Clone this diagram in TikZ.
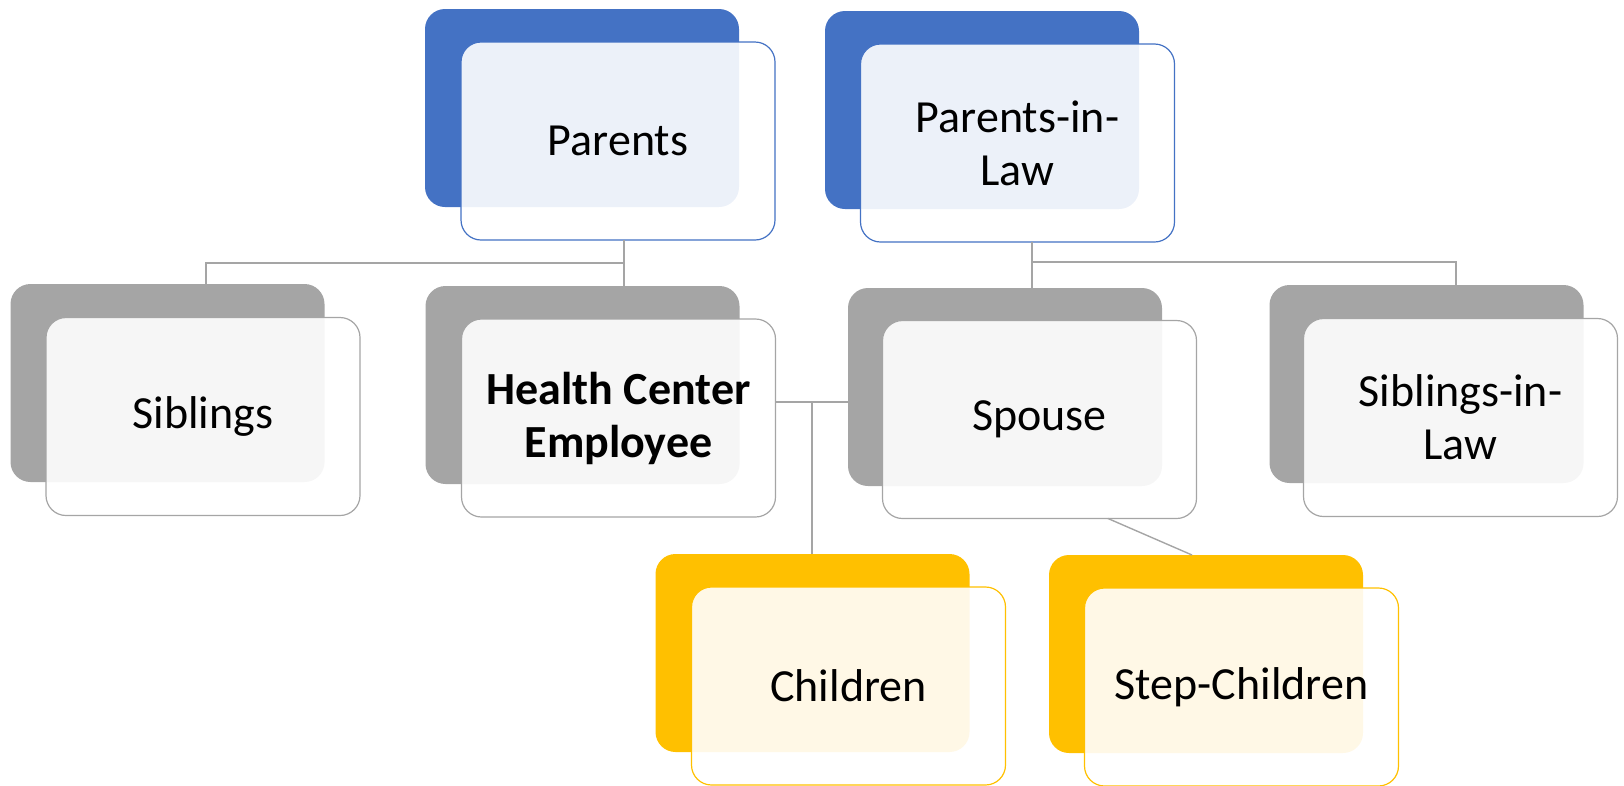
\documentclass[tikz,border=0pt]{standalone}
\usepackage{fontspec}
\setmainfont{Carlito}
\definecolor{accBlue}{HTML}{4472C4}
\definecolor{accGray}{HTML}{A5A5A5}
\definecolor{accGold}{HTML}{FFC000}
\definecolor{lineGray}{HTML}{A5A5A5}
\tikzset{
  card/.style={rectangle, rounded corners=20pt, minimum width=314pt,
    minimum height=198pt, inner sep=0pt, outer sep=0pt},
  backcard/.style={card, fill=#1},
  frontcard/.style={card, draw=#1, line width=1.2pt, fill=white,
    fill opacity=0.9, text opacity=1, draw opacity=1, align=center,
    font=\fontsize{46}{53}\selectfont, text=black},
  conn/.style={draw=lineGray, line width=1.4pt}
}
\begin{document}
\begin{tikzpicture}[x=1pt,y=-1pt]
\useasboundingbox (0,0) rectangle (1624,785);

% back plates
\node[backcard=accBlue] (parB) at (582,108) {};
\node[backcard=accBlue] (pilB) at (982,110) {};
\node[backcard=accGray] (sibB) at (167.5,383) {};
\node[backcard=accGray] (hceB) at (582.5,385) {};
\node[backcard=accGray] (spB)  at (1005,387) {};
\node[backcard=accGray] (silB) at (1426.5,384) {};
\node[backcard=accGold] (chB)  at (812.5,653) {};
\node[backcard=accGold] (stB)  at (1206,654) {};

% junction points of the connectors
\coordinate (jP) at (624,263);
\coordinate (jS) at (206,263);
\coordinate (jL) at (1032,262);
\coordinate (jR) at (1456,262);
\coordinate (jH) at (812,402);
\coordinate (kA) at (1108,519);
\coordinate (kB) at (1192,553);

% front cards with labels
\node[frontcard=accBlue] (par) at (618,141) {Parents};
\node[frontcard=accBlue] (pil) at (1017.5,143) {Parents-in-\\Law};
\node[frontcard=accGray] (sib) at (203,416.5) {Siblings};
\node[frontcard=accGray] (hce) at (618.5,418) {\bfseries Health Center\\\bfseries Employee};
\node[frontcard=accGray] (sp)  at (1039.5,419.5) {Spouse};
\node[frontcard=accGray] (sil) at (1460.5,417.5) {Siblings-in-\\Law};
\node[frontcard=accGold] (ch)  at (848.5,686) {Children};
\node[frontcard=accGold] (st)  at (1241.5,687) {Step-Children};

% connectors
\draw[conn] (par.south -| jP) -- (hceB.north -| jP);
\draw[conn] (jP) -- (jS) -- (sibB.north -| jS);
\draw[conn] (pil.south -| jL) -- (spB.north -| jL);
\draw[conn] (jL) -- (jR) -- (silB.north -| jR);
\draw[conn] (hce.east |- jH) -- (spB.west |- jH);
\draw[conn] (jH) -- (chB.north -| jH);
\draw[conn] (sp.south -| kA) -- (stB.north -| kB);
\end{tikzpicture}
\end{document}
